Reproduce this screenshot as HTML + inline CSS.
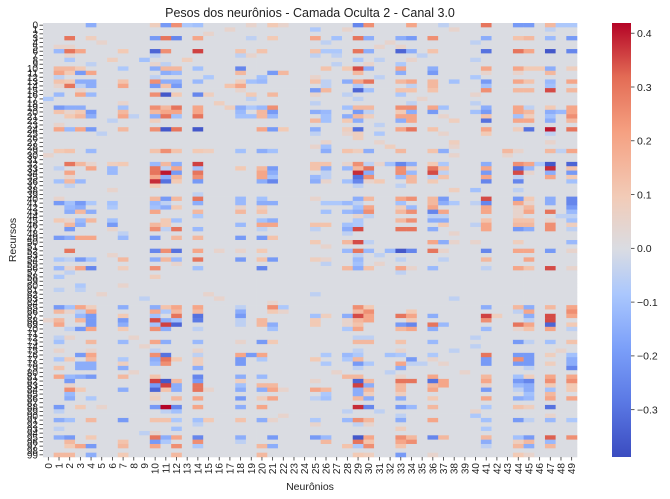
<!DOCTYPE html>
<html><head><meta charset="utf-8">
<style>
html,body{margin:0;padding:0;background:#fff;}
svg{display:block;font-family:"Liberation Sans","DejaVu Sans",sans-serif;}
</style></head>
<body>
<svg id="chart" width="670" height="499" viewBox="0 0 670 499">
<defs>
<linearGradient id="cbar" x1="0" y1="1" x2="0" y2="0">
<stop offset="0" stop-color="#3b4cc0"/><stop offset="0.125" stop-color="#5a78e4"/>
<stop offset="0.25" stop-color="#7b9ff9"/><stop offset="0.375" stop-color="#aac7fd"/>
<stop offset="0.48" stop-color="#dadce2"/><stop offset="0.6" stop-color="#f2cbb7"/>
<stop offset="0.75" stop-color="#f5a081"/><stop offset="0.875" stop-color="#e36c55"/>
<stop offset="1" stop-color="#b40426"/></linearGradient>
</defs>
<text x="310" y="17" text-anchor="middle" font-size="12.5" fill="#222">Pesos dos neurônios - Camada Oculta 2 - Canal 3.0</text>
<text x="310" y="490" text-anchor="middle" font-size="10.5" fill="#222">Neurônios</text>
<text x="16" y="240" text-anchor="middle" font-size="10.5" fill="#222" transform="rotate(-90 16 240)">Recursos</text>
<g id="cells"></g>
<g id="xticks"></g>
<g id="yticks"></g>
<rect x="612" y="23" width="19" height="434" fill="url(#cbar)"/>
<g id="cticks"></g>
</svg>
<script>
const nRows = 100;
const nCols = 50;
const colorbarTicks = [0.4, 0.3, 0.2, 0.1, 0.0, -0.1, -0.2, -0.3];
const colorbarLabels = ["0.4", "0.3", "0.2", "0.1", "0.0", "−0.1", "−0.2", "−0.3"];
// one string per row: "col:value" pairs, unlisted cells = 0
const rowWeights = [
"4:-.15 10:.08 11:-.2 12:.25 13:-.08 14:-.1 19:.05 21:.1 22:.05 29:-.25 30:.25 34:.2 37:-.05 41:.3 44:-.2 45:-.2 47:.15 48:-.08 49:-.08",
"17:.05 25:-.08 28:.05 38:.05 47:-.05",
"15:.05",
"2:.3 4:.08 10:-.2 11:.3 12:-.25 14:.2 19:-.05 21:.1 25:.2 27:-.1 29:.3 30:-.15 33:-.15 34:-.2 36:.25 41:-.15 44:.12 45:.15 47:-.12 49:-.2",
"5:.05 26:-.05 32:.05 40:-.05",
"1:.05 2:.05 31:.05 33:.05",
"1:-.12 2:.3 3:.2 7:.1 10:-.33 11:.25 14:.36 18:.12 20:.12 25:.12 26:-.08 27:-.08 29:.3 30:-.15 33:-.33 34:-.15 36:.12 41:-.3 44:.3 45:.2 47:-.36 49:-.25",
"2:.05 10:-.05 18:-.05 19:.05 25:-.05 27:-.05 35:-.05",
"2:-.08 6:.08 9:-.1 13:.08 29:-.08 31:-.05 34:.05 40:-.05",
"4:-.05 10:.05 11:-.05 27:-.05 30:.05 33:-.08",
"1:.15 2:.15 3:.1 7:-.08 10:-.15 11:.15 12:.15 14:-.1 18:-.25 26:.12 28:.1 29:.35 30:-.15 33:.2 36:-.15 41:.2 44:.2 45:.1 46:.1 47:-.15 49:.08",
"1:.2 2:.1 3:-.2 4:.2 11:-.15 12:-.12 18:.15 21:-.2 22:.15 29:.15 33:-.15 36:-.2 41:.05 44:.05 47:.15",
"1:-.05 10:-.05 15:-.08 20:-.1 25:.05 31:-.05 40:-.08",
"1:.12 2:.1 3:-.15 4:-.15 7:.12 10:.25 11:-.15 12:-.15 14:-.12 18:.08 19:-.1 20:-.12 25:.12 26:-.05 28:-.15 29:.2 30:.3 33:.15 34:.2 36:.15 38:-.1 41:-.2 44:.2 45:.12 47:-.12 49:.2",
"1:.05 2:.3 3:-.05 4:-.15 7:.2 10:-.2 11:.12 12:-.2 17:.12 18:.2 26:-.05 29:-.08 34:-.05 36:.15 41:-.1 47:-.1",
"3:.05 18:.05 25:-.2 26:.15 29:-.33 30:-.1 33:.12 34:.12 36:.12 41:.25 44:.15 45:.15 47:.35 49:.15",
"1:-.12 3:.2 4:-.12 10:.25 11:-.36 12:.1 14:-.25 15:.08 19:.1 21:.15 25:.05 28:-.05 33:-.08 40:.05",
"0:-.08 19:-.05 29:-.05 35:.05",
"7:.05 16:.08 25:-.05 34:-.05 40:-.05",
"1:-.2 2:-.15 3:-.15 7:-.1 10:.25 11:.15 12:.3 14:.2 17:.08 18:-.15 19:-.08 20:-.12 21:.25 28:-.1 29:.15 30:.15 33:.25 34:.25 36:.2 37:-.1 41:-.15 44:.2 45:-.05 47:.1 49:.2",
"1:.12 2:.05 3:.1 4:-.2 7:.15 10:.15 11:.2 12:.2 14:.2 18:-.12 20:.15 21:-.2 25:-.15 26:-.12 29:-.2 30:-.05 33:.1 34:-.15 36:-.2 40:-.1 41:-.2 44:.2 45:.15 47:-.15 48:-.12 49:.2",
"2:.1 3:.15 4:-.15 7:.2 8:-.05 10:-.15 11:.3 12:-.1 14:.3 18:-.1 19:-.1 20:.15 21:-.12 26:-.1 28:-.15 29:.15 30:.08 33:.2 34:.2 37:.05 41:.12 44:-.1 45:.08 47:-.1 49:.25",
"6:-.05 10:.08 25:.15 26:-.1 28:.1 29:-.15 33:-.15 34:.2 38:.08 41:-.3 44:.2 45:.2 47:-.15 49:.15",
"1:.05 31:-.05",
"1:.2 2:-.12 3:.2 4:-.2 7:.15 10:.25 11:-.36 12:.3 14:-.36 20:.2 21:-.2 22:.1 25:-.15 28:.08 29:-.3 33:.2 34:.3 36:.12 41:.2 44:.08 45:-.3 47:.4 49:.3",
"5:-.05 25:-.05 28:.05 29:.08 31:-.08 37:.05 41:.1 47:-.05",
"29:.08",
"26:.05 31:.05 38:.08 47:.05",
"25:.05 26:-.1 32:.08 38:.05",
"1:.1 2:.12 4:-.12 10:.12 11:.25 12:.12 14:.1 15:.08 18:-.1 20:-.15 21:-.1 26:-.15 28:.12 29:.08 30:-.15 33:.15 36:.12 37:-.15 43:.15 44:.05 47:.15 48:-.05 49:.2",
"0:.05 38:.05 43:.05",
"",
"2:.3 3:.15 4:.05 6:.08 7:.1 10:-.12 11:.15 12:-.15 14:.36 25:.12 26:.12 28:.05 29:.25 30:-.05 31:.05 32:-.1 33:-.25 34:-.15 36:.1 37:-.08 41:-.15 44:.25 45:.2 46:-.08 47:-.36 49:-.33",
"1:-.05 4:.2 6:-.12 10:.3 11:-.05 12:.2 14:-.1 18:.1 20:.15 21:-.2 25:.12 26:-.15 28:-.12 29:.15 30:.3 33:.25 34:.05 36:.3 37:.12 41:.2 44:-.3 45:-.12 47:.38 49:.12",
"2:.2 6:-.12 10:.3 11:.4 12:-.2 14:.3 20:.2 21:-.15 26:-.05 29:.38 30:-.15 33:.25 34:-.12 36:.35 37:-.05 41:-.2 44:.35 45:.05 47:-.15 49:-.2",
"2:.05 10:.2 11:-.15 12:.15 14:.25 20:.2 21:-.1 25:-.12 26:-.05 29:-.3 30:.25 33:-.12 34:.15 36:-.05 37:.12 41:.2 44:-.05 47:.2 49:.1",
"1:-.1 2:.15 3:-.12 10:.38 11:-.3 12:.1 14:-.2 20:-.15 21:-.25 25:-.15 26:.05 28:-.1 29:-.25 30:.05 31:.1 34:.15 36:.1 41:-.25 44:-.25 49:-.1",
"2:-.05 10:.1 29:-.05 33:-.05",
"6:.05 38:.08 40:-.1 44:-.05",
"14:-.05",
"1:.05 10:.15 11:-.2 12:.15 14:.3 18:-.12 20:-.1 25:.05 29:-.15 30:.15 33:.2 34:.25 36:.15 37:-.2 41:.35 44:-.2 45:.1 47:-.15 49:-.25",
"1:-.2 2:-.1 3:-.2 4:-.08 6:-.1 10:-.12 11:-.05 14:-.15 18:-.12 20:-.15 21:-.15 26:-.08 27:-.08 28:-.12 29:-.05 33:-.1 36:.15 37:-.15 38:-.08 40:-.05 41:-.25 44:.2 45:.05 47:-.15 49:-.25",
"2:-.12 3:-.15 6:-.08 10:-.1 11:-.15 12:.1 18:.05 20:.08 29:-.1 30:.2 33:.08 34:-.12 36:.2 41:.2 44:.05 45:.15 49:-.2",
"2:-.15 3:.15 4:-.15 10:.2 14:.15 18:.15 20:.12 26:-.1 28:-.12 29:-.15 30:.25 33:.15 34:.25 36:-.25 37:.2 41:.2 44:.05 45:.2 47:.3 49:-.12",
"14:-.08 29:.05 30:-.05 36:-.05 37:-.05 44:.05 48:-.05 49:-.05",
"1:.1 2:.05 3:-.12 4:.15 6:-.1 11:.1 12:-.1 20:-.1 21:-.15 29:-.08 33:.15 34:.25 36:-.15 37:-.15 41:.12 44:.12 45:.12 47:.05 49:-.1",
"2:.15 3:-.15 6:-.2 10:.15 11:.1 18:-.12 20:.2 21:.2 25:.12 26:.12 28:-.1 29:-.08 37:.1 40:-.05 41:.2 44:.15 45:.15 47:.25 49:.08",
"2:-.2 6:.05 10:.25 11:-.05 12:.3 14:-.12 20:-.05 25:-.05 28:-.15 29:.35 33:.3 34:.3 36:-.15 41:.2 44:-.2 45:-.15 47:.25 49:-.05",
"7:-.05 28:-.05 38:.05",
"1:-.2 2:-.15 3:.2 4:.2 7:-.12 10:-.2 12:.15 14:.15 18:-.2 20:-.2 21:.12",
"25:.1 28:.15 29:.35 30:-.05 36:.2 37:-.15 38:.05 40:.05 44:.08 49:-.12",
"26:.05",
"2:.3 10:-.25 11:.25 12:-.3 14:.2 16:.05 18:.05 20:.1 28:-.12 29:.3 30:-.12 32:-.12 33:-.36 34:-.25 36:.3 37:.05 41:-.25 44:.2 45:.2 47:-.2 49:.05",
"6:.05 29:-.05 31:-.05",
"1:-.08 2:-.05 3:-.2 4:-.1 7:.15 10:-.15 11:.15 12:-.12 14:.3 18:-.2 20:.12 21:-.2 25:.08 26:.05 29:-.12 33:-.05 37:-.05 41:.15 45:.2",
"12:.05 26:-.05 29:-.1 31:.05",
"1:-.12 2:.05 3:.2 4:-.25 7:.08 10:.25 14:-.1 20:-.25 28:.15 29:-.15 30:.12 33:.2 34:.05 36:-.12 41:-.05 44:.2 45:.12 47:.35 49:.05",
"2:-.05 33:-.05",
"1:-.08 10:.08",
"",
"3:-.08 7:.05",
"1:-.05 3:-.05",
"5:.05 15:.05 25:-.05",
"9:-.05 16:.05 38:-.05",
"21:.05",
"1:-.2 2:-.1 3:.2 4:.08 7:-.15 10:-.15 11:.12 12:.2 14:.2 18:-.05 21:.25 22:-.08 29:.25 30:.1 41:-.15 44:.15 45:-.15 47:.15 49:.2",
"1:.15 2:.05 3:-.05 4:.2 10:.2 11:-.08 12:.15 14:.15 18:-.15 21:.1 22:.05 29:.15 30:.25 34:.1 44:-.05 45:.2 49:.25",
"3:-.12 4:-.2 7:.1 10:-.1 12:.3 14:-.3 18:-.2 25:-.1 26:.08 28:-.15 29:.35 30:.2 33:.3 34:.2 36:-.15 41:.36 42:.08 45:-.15 47:.35 49:.2",
"0:.05 1:.15 3:.15 4:-.2 7:-.2 10:.35 11:-.15 12:-.1 14:-.28 18:-.05 20:.15 25:.1 28:.05 29:.15 30:.2 34:.1 41:.25 45:-.05 47:.35",
"1:.2 4:-.2 7:-.15 10:-.1 11:.36 12:-.33 18:-.05 20:.15 21:-.15 25:.1 28:.05 29:.12 33:-.2 34:-.25 36:.3 37:-.12 44:.3 45:.2 47:-.33 49:.1",
"2:-.05 3:-.2 4:.2 7:.1 10:.25 11:-.15 14:-.05 21:-.1 28:-.08 29:.2 33:.15 34:.2 36:-.15 41:-.12 44:.05 45:.12 47:.2 49:-.05",
"",
"1:-.05 2:.05 8:.05 29:-.05 30:-.05 40:-.05",
"1:-.1 4:.15 7:-.12 10:.2 11:-.15 14:-.12 18:.05 20:-.2 21:.1 29:.15 30:.15 33:.12 36:-.12 44:-.2 45:-.05 47:-.1 49:.12",
"9:.05 40:-.05",
"1:.05 4:.05 10:-.05 14:.05 29:-.05 33:.05 38:-.05 48:.05",
"3:-.2 4:.2 10:.25 11:-.3 14:-.05 18:.2 19:-.2 20:.2 26:-.08 28:-.12 29:-.08 32:-.1 33:-.08 36:-.08 41:.3 44:-.2 45:-.2 47:.08 49:-.1",
"1:-.08 2:.1 4:.15 7:-.08 10:-.15 11:.3 12:.1 14:.08 18:-.2 20:-.08 25:.1 28:-.08 29:.15 34:-.2 36:.05 41:-.2 44:.25 45:-.2 49:-.15",
"3:-.15 4:-.15 7:.08 10:-.12 11:.25 14:.08 18:-.2 26:-.08 29:-.2 30:-.08 33:.2 34:-.05 35:-.05 37:.05 41:-.2 44:-.2 45:-.2 47:.08 49:-.15",
"1:.12 3:-.15 4:-.15 7:-.15 14:-.15 29:-.05 33:-.15 45:-.05 49:-.25",
"8:.05 27:.05 32:-.05 39:.05",
"1:.2 2:-.12 3:-.15 4:-.2 7:.15 10:.12 14:-.25 18:-.15 20:-.12 28:.15 29:.15 33:.05 36:.2 41:.15 44:-.1 45:.08 47:.2 49:.2",
"2:-.2 10:.36 11:-.36 12:.15 14:-.2 18:.08 25:.05 29:-.33 30:.15 33:.3 34:.3 36:-.3 37:.2 41:.2 44:-.2 45:-.25 47:.25 49:.25",
"2:.05 10:-.2 11:.36 12:-.15 14:.3 18:-.1 20:.15 21:.15 29:.36 30:-.15 33:.15 36:.15 37:.2 41:.05 44:-.12 45:-.15 47:.1 49:.1",
"2:.25 3:.1 7:-.15 10:-.33 11:.12 12:-.15 14:.3 15:.05 18:-.15 20:-.15 21:.2 22:.05 25:.2 26:.15 29:-.15 30:.15 33:.15 36:.2 41:-.2 44:-.05 45:-.15 47:-.1 49:.1",
"2:-.12 10:.05 26:-.08 29:-.15 30:.08 33:.08 45:-.1 47:.15",
"2:-.15 4:-.08 10:.08 12:.15 14:.2 18:-.2 20:.08 21:.2 25:-.05 26:-.1 29:.15 30:-.15 33:-.15 36:.1 41:.2 44:-.15 45:-.12 47:.2 49:.2",
"",
"1:-.2 3:.1 5:.05 10:-.2 11:.42 12:-.25 14:.2 18:-.15 20:.2 29:.38 30:-.25 33:-.2 34:-.12 36:.15 41:-.08 44:.12 45:.08 47:-.3",
"1:-.05 11:-.05 12:-.1 28:-.05 31:-.05 40:.05",
"22:.05 33:-.05 40:-.08 47:.05",
"1:-.15 2:-.1 4:.15 7:-.2 10:.12 11:.12 12:-.08 14:-.1 15:.1 18:.12 20:-.15 21:.05 25:-.08 28:-.12 29:.25 30:.15 33:-.15 36:.2 41:-.1 44:-.2 45:-.05 47:-.12 49:-.08",
"14:-.05 25:.05 29:-.05 30:.05",
"1:-.05 12:-.1 33:.08 41:-.08",
"9:-.05 10:.05",
"1:-.15 2:-.2 4:.1 10:.3 11:-.15 12:.2 14:-.25 18:-.15 21:-.2 25:-.2 26:-.12 29:-.36 30:.2 33:.25 34:.15 36:-.25 37:.15 41:.15 44:-.1 45:-.2 47:.33 49:.25",
"2:.15 7:.12 10:-.2 11:-.08 14:.25 18:-.05 26:.15 29:.3 30:.12 33:.2 34:.25 41:-.15 44:.08 45:.15 47:-.12",
"2:.1 3:.2 4:-.2 7:.15 10:.2 12:.25 14:-.08 20:.15 21:-.15 28:.12 29:-.08 30:.25 33:.12 41:-.05 44:.15 45:-.15 47:.15",
"",
"1:.15 2:.15 4:-.15 7:.1 12:.15 20:.15 29:.1 30:.08 33:-.2 36:.05 44:.1 45:.05"
];
const vmin = -0.388, vmax = 0.419;
const X0 = 43, X1 = 577, Y0 = 23, Y1 = 457;
const cw = (X1 - X0) / nCols, ch = (Y1 - Y0) / nRows;
function xScale(c){ return X0 + c * cw; }
function yScale(r){ return Y0 + r * ch; }
function cbScale(v){ return Y1 - (v - vmin) / (vmax - vmin) * (Y1 - Y0); }
const stops = [[0,[59,76,192]],[0.125,[90,120,228]],[0.25,[123,159,249]],[0.375,[170,199,253]],[0.48,[218,220,226]],[0.6,[242,203,183]],[0.75,[245,160,129]],[0.875,[227,108,85]],[1,[180,4,38]]];
function color(v){
  let t = Math.max(0, Math.min(1, (v - vmin) / (vmax - vmin)));
  for (let i = 1; i < stops.length; i++) {
    if (t <= stops[i][0]) {
      const a = stops[i-1], b = stops[i], f = (t - a[0]) / (b[0] - a[0]);
      return 'rgb(' + [0,1,2].map(k => Math.round(a[1][k] + f * (b[1][k] - a[1][k]))).join(',') + ')';
    }
  }
  return 'rgb(180,4,38)';
}
const NS = 'http://www.w3.org/2000/svg';
const grid = [];
for (let r = 0; r < nRows; r++) {
  const row = new Array(nCols).fill(0);
  const s = (rowWeights[r] || '').trim();
  if (s) s.split(/\s+/).forEach(p => { const q = p.split(':'); row[+q[0]] = parseFloat(q[1]); });
  grid.push(row);
}
const cells = document.getElementById('cells');
for (let r = 0; r < nRows; r++) {
  for (let c = 0; c < nCols; c++) {
    const rect = document.createElementNS(NS, 'rect');
    rect.setAttribute('x', xScale(c).toFixed(2));
    rect.setAttribute('y', yScale(r).toFixed(2));
    rect.setAttribute('width', (cw + 0.3).toFixed(2));
    rect.setAttribute('height', (ch + 0.3).toFixed(2));
    rect.setAttribute('fill', color(grid[r][c]));
    
    
    cells.appendChild(rect);
  }
}
const xt = document.getElementById('xticks');
for (let c = 0; c < nCols; c++) {
  const cx = xScale(c + 0.5);
  const ln = document.createElementNS(NS, 'line');
  ln.setAttribute('x1', cx); ln.setAttribute('x2', cx);
  ln.setAttribute('y1', Y1); ln.setAttribute('y2', Y1 + 3.5);
  ln.setAttribute('stroke', '#333'); ln.setAttribute('stroke-width', '0.8');
  xt.appendChild(ln);
  const t = document.createElementNS(NS, 'text');
  t.setAttribute('x', cx + 3.5); t.setAttribute('y', Y1 + 6);
  t.setAttribute('font-size', '10'); t.setAttribute('fill', '#222');
  t.setAttribute('text-anchor', 'end');
  t.setAttribute('transform', 'rotate(-90 ' + (cx + 3.5) + ' ' + (Y1 + 6) + ')');
  
  
  t.textContent = String(c);
  xt.appendChild(t);
}
const yt = document.getElementById('yticks');
for (let r = 0; r < nRows; r++) {
  const cy = yScale(r + 0.5);
  const ln = document.createElementNS(NS, 'line');
  ln.setAttribute('x1', X0 - 3.5); ln.setAttribute('x2', X0);
  ln.setAttribute('y1', cy); ln.setAttribute('y2', cy);
  ln.setAttribute('stroke', '#333'); ln.setAttribute('stroke-width', '0.8');
  yt.appendChild(ln);
  const t = document.createElementNS(NS, 'text');
  t.setAttribute('x', X0 - 5); t.setAttribute('y', cy + 3.5);
  t.setAttribute('font-size', '10'); t.setAttribute('fill', '#222');
  t.setAttribute('text-anchor', 'end');
  
  
  t.textContent = String(r);
  yt.appendChild(t);
}
const ct = document.getElementById('cticks');
colorbarTicks.forEach((v, i) => {
  const y = cbScale(v);
  const ln = document.createElementNS(NS, 'line');
  ln.setAttribute('x1', 631); ln.setAttribute('x2', 634.5);
  ln.setAttribute('y1', y); ln.setAttribute('y2', y);
  ln.setAttribute('stroke', '#333'); ln.setAttribute('stroke-width', '0.8');
  ct.appendChild(ln);
  const t = document.createElementNS(NS, 'text');
  t.setAttribute('x', 637); t.setAttribute('y', y + 3.8);
  t.setAttribute('font-size', '10.5'); t.setAttribute('fill', '#222');
  
  
  t.textContent = colorbarLabels[i];
  ct.appendChild(t);
});
</script>
</body></html>
